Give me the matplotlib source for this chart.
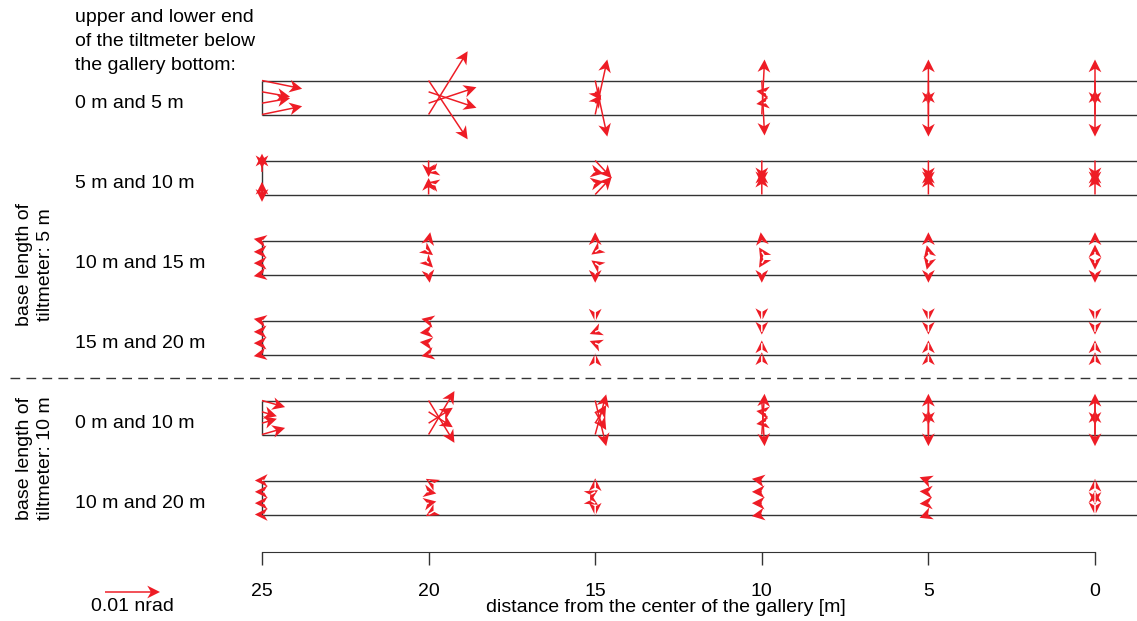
import matplotlib.pyplot as plt
import numpy as np

plt.rcParams['font.family'] = ['Liberation Sans', 'DejaVu Sans']

# tiltmeter stations, distance from the center of the gallery [m]
stations = [25, 20, 15, 10, 5, 0]
row_labels = ['0 m and 5 m', '5 m and 10 m', '10 m and 15 m',
              '15 m and 20 m', '0 m and 10 m', '10 m and 20 m']

# tilt vectors in 1e-3 nrad, one row per station, four depths (top to bottom)
# u: towards the gallery center, v: upwards
r1_u = [[7.3, 5.1, 5.1, 7.3], [7.1, 8.7, 8.7, 7.1], [2.2, 1.1, 1.1, 2.2],
        [0.5, -1.0, -1.0, 0.5], [0, 0, 0, 0], [0, 0, 0, 0]]
r1_v = [[-1.5, -0.9, 0.9, 1.5], [-10.7, -2.9, 2.9, 11.5], [-10.2, -1.5, 1.5, 10.0],
        [-10.0, 0.15, -0.15, 10.0], [-10.2, 0.3, -0.3, 10.0], [-10.2, 0.3, -0.3, 10.0]]

r2_u = [[0, 0, 0, 0], [0, -0.4, -0.4, 0], [3.0, 1.5, 1.5, 3.0],
        [0, 0, 0, 0], [0, 0, 0, 0], [0, 0, 0, 0]]
r2_v = [[-1.4, 3.3, -3.4, 2.3], [-3.0, -0.1, 0.1, 3.0], [-3.2, -0.3, 0.3, 3.2],
        [-3.6, 0.2, -0.2, 3.6], [-3.6, 0.2, -0.2, 3.6], [-3.6, 0.2, -0.2, 3.6]]

r3_u = [[-1.5, -1.5, -1.5, -1.5], [0.3, 0.8, 0.8, 0.2], [0, -0.7, -0.7, 0],
        [-0.2, -0.5, -0.5, 0], [0, -0.3, -0.3, 0], [0, 0, 0, 0]]
r3_v = [[0.3, 0, 0, -0.3], [1.5, -0.6, -0.8, -1.5], [1.5, -0.5, 0.5, -1.5],
        [1.5, 0.8, -0.8, -1.5], [1.5, 1.2, -1.2, -1.5], [1.5, 1.3, -1.2, -1.5]]

r4_u = [[-1.5, -1.5, -1.5, -1.5], [-1.3, -1.6, -1.6, -1.3], [0, -1.0, -1.0, 0],
        [0, 0, 0, 0], [0, 0, 0, 0], [0, 0, 0, 0]]
r4_v = [[0.3, 0, 0, -0.3], [0.3, -0.2, 0.2, -0.3], [-0.2, -0.4, 0.4, 0.2],
        [-0.1, -0.5, 0.5, 0.4], [-0.1, -0.5, 0.5, 0.4], [-0.1, -0.5, 0.5, 0.4]]

r5_u = [[4.2, 2.7, 2.7, 4.2], [4.7, 4.4, 4.4, 4.7], [2.0, 2.0, 2.0, 2.0],
        [0.5, -1.0, -1.0, 0.5], [0, 0, 0, 0], [0, 0, 0, 0]]
r5_v = [[-1.2, -0.8, 0.8, 1.2], [-7.7, -2.8, 2.8, 7.9], [-8.3, -3.3, 3.3, 7.3],
        [-8.3, 0.15, -0.15, 7.4], [-8.3, 0.3, -0.3, 7.4], [-8.3, 0.3, -0.3, 7.4]]

r6_u = [[-1.3, -1.3, -1.3, -1.3], [-0.5, 1.4, 1.4, -0.5], [0, 0.5, 0.5, 0],
        [-1.8, -1.8, -1.8, -1.8], [-1.6, -1.6, -1.6, -1.6], [0, 0, 0, 0]]
r6_v = [[0, 0, 0, 0], [0.3, -0.3, 0.3, -0.3], [0.4, 0.3, -0.3, -0.2],
        [0.3, 0, 0, -0.3], [0.6, 0.1, -0.1, -0.6], [0.3, 0.3, -0.3, -0.1]]

tilt_u = [r1_u, r2_u, r3_u, r4_u, r5_u, r6_u]
tilt_v = [r1_v, r2_v, r3_v, r4_v, r5_v, r6_v]

key_value = 10  # 0.01 nrad

W, H = 1137, 621
red = '#ee1c25'
line_col = '#333333'

fig = plt.figure(figsize=(W / 100, H / 100), dpi=100)
ax = fig.add_axes([0, 0, 1, 1])
px_per_m = 833 / 25
row_px = 80.0
ax.set_xlim(25 + 262 / px_per_m, -(W - 1095) / px_per_m)
ax.set_ylim((H - 97.5) / row_px, -97.5 / row_px)
ax.axis('off')

half = 17 / row_px
levels = np.linspace(-half, half, 4)
x_right = ax.get_xlim()[1]

# gallery bands
for r in range(len(row_labels)):
    ax.hlines([r - half, r + half], 25, x_right, color=line_col, lw=1.0, zorder=1)
    ax.vlines(25, r - half, r + half, color=line_col, lw=1.0, zorder=1)

quiv_kw = dict(color=red, angles='uv', scale_units='dots', scale=key_value / 55,
               units='dots', width=1.5, headwidth=8.5, headlength=8.5,
               headaxislength=6.3, minshaft=0, minlength=0, zorder=3)

for r, (u, v) in enumerate(zip(tilt_u, tilt_v)):
    X = np.repeat(stations, 4)
    Y = r + np.tile(levels, len(stations))
    q = ax.quiver(X, Y, np.ravel(u), np.ravel(v), **quiv_kw)

# separator between the two base lengths
ax.hlines(3.5, 25 + 252 / px_per_m, x_right, color=line_col, lw=1.0,
          linestyles=(0, (7, 4.5)))

ax.quiverkey(q, 132.5 / W, 1 - 592 / H, key_value, '0.01 nrad', labelpos='S',
             coordinates='figure', labelsep=0.06, fontproperties={'size': 14})

# row labels
for r, lab in enumerate(row_labels):
    ax.text(25 + (262 - 75) / px_per_m, r + 0.07, lab, fontsize=14, va='center', ha='left')

fig.text(75 / W, 1 - 9 / H, 'upper and lower end\nof the tiltmeter below\nthe gallery bottom:',
         fontsize=14, va='top', ha='left', linespacing=1.55)
fig.text(35 / W, 1 - 265 / H, 'base length of\ntiltmeter: 5 m', fontsize=14,
         rotation=90, va='center', ha='center', multialignment='center', linespacing=1.35)
fig.text(35 / W, 1 - 458 / H, 'base length of\ntiltmeter: 10 m', fontsize=14,
         rotation=90, va='center', ha='center', multialignment='center', linespacing=1.35)

# distance axis
ax2 = fig.add_axes([262 / W, 1 - 552 / H, 833 / W, 0.001])
ax2.set_xlim(25, 0)
ax2.set_xticks(stations)
ax2.set_yticks([])
for s in ['top', 'left', 'right']:
    ax2.spines[s].set_visible(False)
ax2.spines['bottom'].set_color(line_col)
ax2.patch.set_visible(False)
ax2.tick_params(axis='x', direction='out', length=9, width=1, color=line_col,
                labelsize=14, pad=13)
fig.text(666 / W, 1 - 608 / H, 'distance from the center of the gallery [m]',
         fontsize=14, ha='center', va='center')

fig.savefig('out.png', dpi=100)
